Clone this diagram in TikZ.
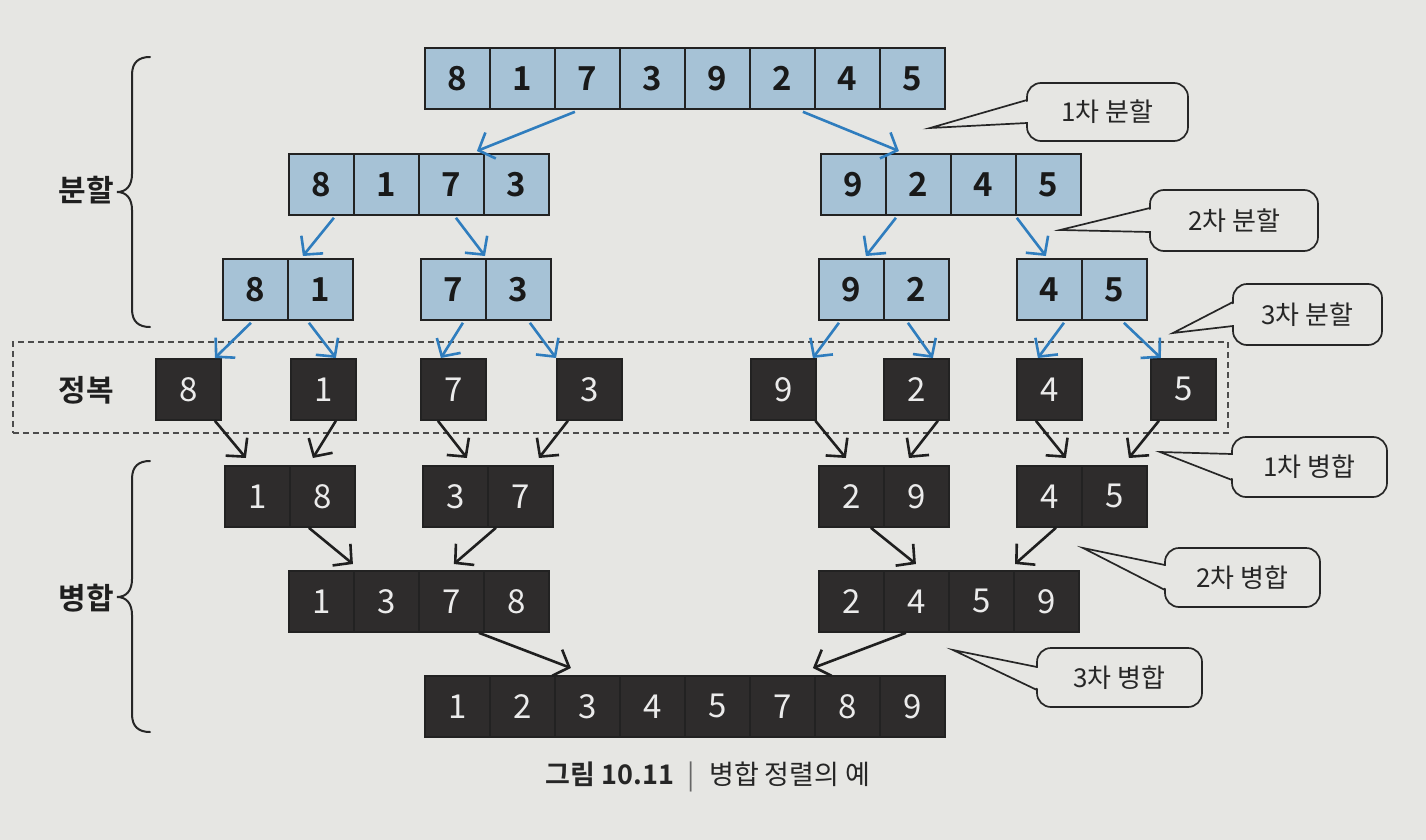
\documentclass[tikz,border=0pt]{standalone}
\usepackage{fontspec}
\setmainfont{Noto Sans CJK KR}[BoldFont={Noto Sans CJK KR Bold}]
\usetikzlibrary{arrows.meta}
\definecolor{paper}{HTML}{E6E6E3}
\definecolor{bluefill}{HTML}{A6C2D6}
\definecolor{darkfill}{HTML}{2E2C2C}
\definecolor{arrowblue}{HTML}{2F7DBE}
\definecolor{linec}{HTML}{222222}
\tikzset{
  cellbase/.style={draw=linec, line width=1.8pt, minimum width=65pt, minimum height=61pt,
    inner sep=0pt, anchor=north west},
  bluecell/.style={cellbase, fill=bluefill, text=black!90,
    font=\bfseries\fontsize{33}{35}\selectfont},
  darkcell/.style={cellbase, fill=darkfill, text=white!92!black,
    font=\fontsize{33}{35}\selectfont},
  splitarrow/.style={draw=arrowblue, line width=2.6pt,
    -{Straight Barb[length=13pt,width=28pt]}},
  mergearrow/.style={draw=black!88, line width=2.6pt,
    -{Straight Barb[length=13pt,width=28pt]}},
  callbox/.style={draw=black!85, line width=1.7pt, fill=paper, rounded corners=14pt,
    inner sep=0pt, text=black!85, font=\fontsize{26}{28}\selectfont},
  calloutline/.style={draw=black!85, line width=1.7pt, line join=miter},
  sidelabel/.style={font=\bfseries\fontsize{30}{32}\selectfont, text=black!88},
  bracestyle/.style={draw=black!85, line width=2pt, line cap=round},
  conquerbox/.style={draw=black!70, line width=1.5pt, dash pattern=on 6pt off 4pt,
    anchor=north west, inner sep=0pt},
}
\newcommand\cellrow[5]{%
  \foreach \v [count=\i] in {#5} {\node[#2] (#1\i) at ({#3+65*(\i-1)},#4) {\v};}}
\newcommand\callout[9]{%
  \node[callbox, minimum width={#4-#2}, minimum height={#5-#3}] (#1)
     at ({(#2+#4)/2},{(#3+#5)/2}) {#6};
  \coordinate (#1tip) at #7;
  \fill[paper] ({#2+1.6},{#8+1.2}) -- (#1tip) -- ({#2+1.6},{#9-1.2}) -- cycle;
  \draw[calloutline] (#2,#8) -- (#1tip) -- (#2,#9);}
\begin{document}
\begin{tikzpicture}[x=1pt,y=-1pt]
\fill[paper] (0,0) rectangle (1426,840);
\useasboundingbox (0,0) rectangle (1426,840);

% conquer dashed band
\node[conquerbox, minimum width=1215pt, minimum height=91pt] (conquer) at (12,341) {};

% split rows
\cellrow{a}{bluecell}{424}{47}{8,1,7,3,9,2,4,5}
\cellrow{bl}{bluecell}{288}{153}{8,1,7,3}
\cellrow{br}{bluecell}{820}{153}{9,2,4,5}
\cellrow{ca}{bluecell}{222}{258}{8,1}
\cellrow{cb}{bluecell}{420}{258}{7,3}
\cellrow{cc}{bluecell}{818}{258}{9,2}
\cellrow{cd}{bluecell}{1016}{258}{4,5}

% conquer singles
\node[darkcell] (q1) at (155,358) {8};
\node[darkcell] (q2) at (290,358) {1};
\node[darkcell] (q3) at (420,358) {7};
\node[darkcell] (q4) at (556,358) {3};
\node[darkcell] (q5) at (750,358) {9};
\node[darkcell] (q6) at (883,358) {2};
\node[darkcell] (q7) at (1016,358) {4};
\node[darkcell] (q8) at (1150,358) {5};

% merge rows
\cellrow{ma}{darkcell}{224}{465}{1,8}
\cellrow{mb}{darkcell}{422}{465}{3,7}
\cellrow{mc}{darkcell}{818}{465}{2,9}
\cellrow{md}{darkcell}{1016}{465}{4,5}
\cellrow{ml}{darkcell}{288}{570}{1,3,7,8}
\cellrow{mr}{darkcell}{818}{570}{2,4,5,9}
\cellrow{f}{darkcell}{424}{675}{1,2,3,4,5,7,8,9}

% split arrows
\draw[splitarrow] ([xshift=-12.5pt,yshift=-2pt]a3.south) -- ([xshift=25.5pt,yshift=2pt]bl3.north);
\draw[splitarrow] ([xshift=20.5pt,yshift=-2pt]a6.south) -- ([xshift=-19.5pt,yshift=2pt]br2.north);
\draw[splitarrow] ([xshift=12.5pt,yshift=-2pt]bl1.south) -- ([xshift=-17.5pt,yshift=2pt]ca2.north);
\draw[splitarrow] ([xshift=4.5pt,yshift=-2pt]bl3.south) -- ([yshift=2pt]cb2.north west);
\draw[splitarrow] ([xshift=-22.5pt,yshift=-2pt]br2.south) -- ([xshift=14.5pt,yshift=2pt]cc1.north);
\draw[splitarrow] ([yshift=-2pt]br3.south east) -- ([xshift=-3.5pt,yshift=2pt]cd1.north);
\draw[splitarrow] ([xshift=-4.5pt,yshift=-2pt]ca1.south) -- ([xshift=26.5pt]q1.north);
\draw[splitarrow] ([xshift=-11.5pt,yshift=-2pt]ca2.south) -- ([xshift=12.5pt]q2.north);
\draw[splitarrow] ([xshift=9.5pt,yshift=-2pt]cb1.south) -- ([xshift=-12.5pt]q3.north);
\draw[splitarrow] ([xshift=11.5pt,yshift=-2pt]cb2.south) -- (q4.north west);
\draw[splitarrow] ([xshift=-12.5pt,yshift=-2pt]cc1.south) -- ([xshift=29.5pt]q5.north);
\draw[splitarrow] ([xshift=-8.5pt,yshift=-2pt]cc2.south) -- ([xshift=16.5pt]q6.north);
\draw[splitarrow] ([xshift=14.5pt,yshift=-2pt]cd1.south) -- ([xshift=-11.5pt]q7.north);
\draw[splitarrow] ([xshift=9.5pt,yshift=-2pt]cd2.south) -- ([xshift=-22.5pt]q8.north);

% merge arrows
\draw[mergearrow] ([xshift=26.5pt]q1.south) -- ([xshift=-11.5pt,yshift=7pt]ma1.north);
\draw[mergearrow] ([xshift=12.5pt]q2.south) -- ([xshift=-9.5pt,yshift=7pt]ma2.north);
\draw[mergearrow] ([xshift=-15.5pt]q3.south) -- ([xshift=11.5pt,yshift=7pt]mb1.north);
\draw[mergearrow] ([xshift=-21.5pt]q4.south) -- ([xshift=18.5pt,yshift=7pt]mb2.north);
\draw[mergearrow] ([xshift=32pt]q5.south) -- ([xshift=-5.5pt,yshift=7pt]mc1.north);
\draw[mergearrow] ([xshift=21.5pt]q6.south) -- ([xshift=-7.5pt,yshift=7pt]mc2.north);
\draw[mergearrow] ([xshift=-13.5pt]q7.south) -- ([xshift=16.5pt,yshift=7pt]md1.north);
\draw[mergearrow] ([xshift=-24.5pt]q8.south) -- ([xshift=14.5pt,yshift=7pt]md2.north);
\draw[mergearrow] ([xshift=-13.5pt]ma2.south) -- ([xshift=31.5pt,yshift=6pt]ml1.north);
\draw[mergearrow] ([xshift=-24.5pt]mb2.south) -- ([xshift=2.5pt,yshift=6pt]ml3.north);
\draw[mergearrow] ([xshift=19.5pt]mc1.south) -- ([xshift=-0.5pt,yshift=6pt]mr2.north);
\draw[mergearrow] ([xshift=6.5pt]md1.south) -- ([xshift=2pt,yshift=6pt]mr4.north west);
\draw[mergearrow] ([xshift=27.5pt]ml3.south) -- ([xshift=-16.5pt,yshift=7pt]f3.north);
\draw[mergearrow] ([xshift=-10.5pt]mr2.south) -- ([xshift=30.5pt,yshift=7pt]f6.north);

% callouts
\callout{k1}{1027}{83}{1188}{141}{1차 분할}{(930,128)}{100}{123}
\callout{k2}{1150}{190}{1318}{251}{2차 분할}{(1060,230)}{208}{232}
\callout{k3}{1233}{284}{1382}{345}{3차 분할}{(1173,333)}{302}{326}
\callout{k4}{1232}{437}{1387}{497}{1차 병합}{(1160,452)}{454}{480}
\callout{k5}{1165}{548}{1320}{607}{2차 병합}{(1083,548)}{565}{590}
\callout{k6}{1037}{648}{1202}{707}{3차 병합}{(953,650)}{667}{690}

% braces and side labels
\draw[bracestyle] (150,57) .. controls (139,57) and (132,62) .. (132,75) -- (132,174)
  .. controls (132,186) and (126,192) .. (117,192)
  .. controls (126,192) and (132,198) .. (132,210) -- (132,309)
  .. controls (132,322) and (139,327) .. (150,327);
\draw[bracestyle] (150,461) .. controls (139,461) and (132,466) .. (132,479) -- (132,579)
  .. controls (132,591) and (126,597) .. (117,597)
  .. controls (126,597) and (132,603) .. (132,615) -- (132,714)
  .. controls (132,727) and (139,732) .. (150,732);
\node[sidelabel] (lsplit) at (86,190) {분할};
\node[sidelabel] (lconq) at (86,390) {정복};
\node[sidelabel] (lmerge) at (86,598) {병합};

% caption
\node[font=\fontsize{27}{29}\selectfont, text=black!85] (caption) at (708,777)
  {\textbf{그림 10.11}\hspace{14pt}{\color{black!60}|}\hspace{14pt}병합 정렬의 예};
\end{tikzpicture}
\end{document}
